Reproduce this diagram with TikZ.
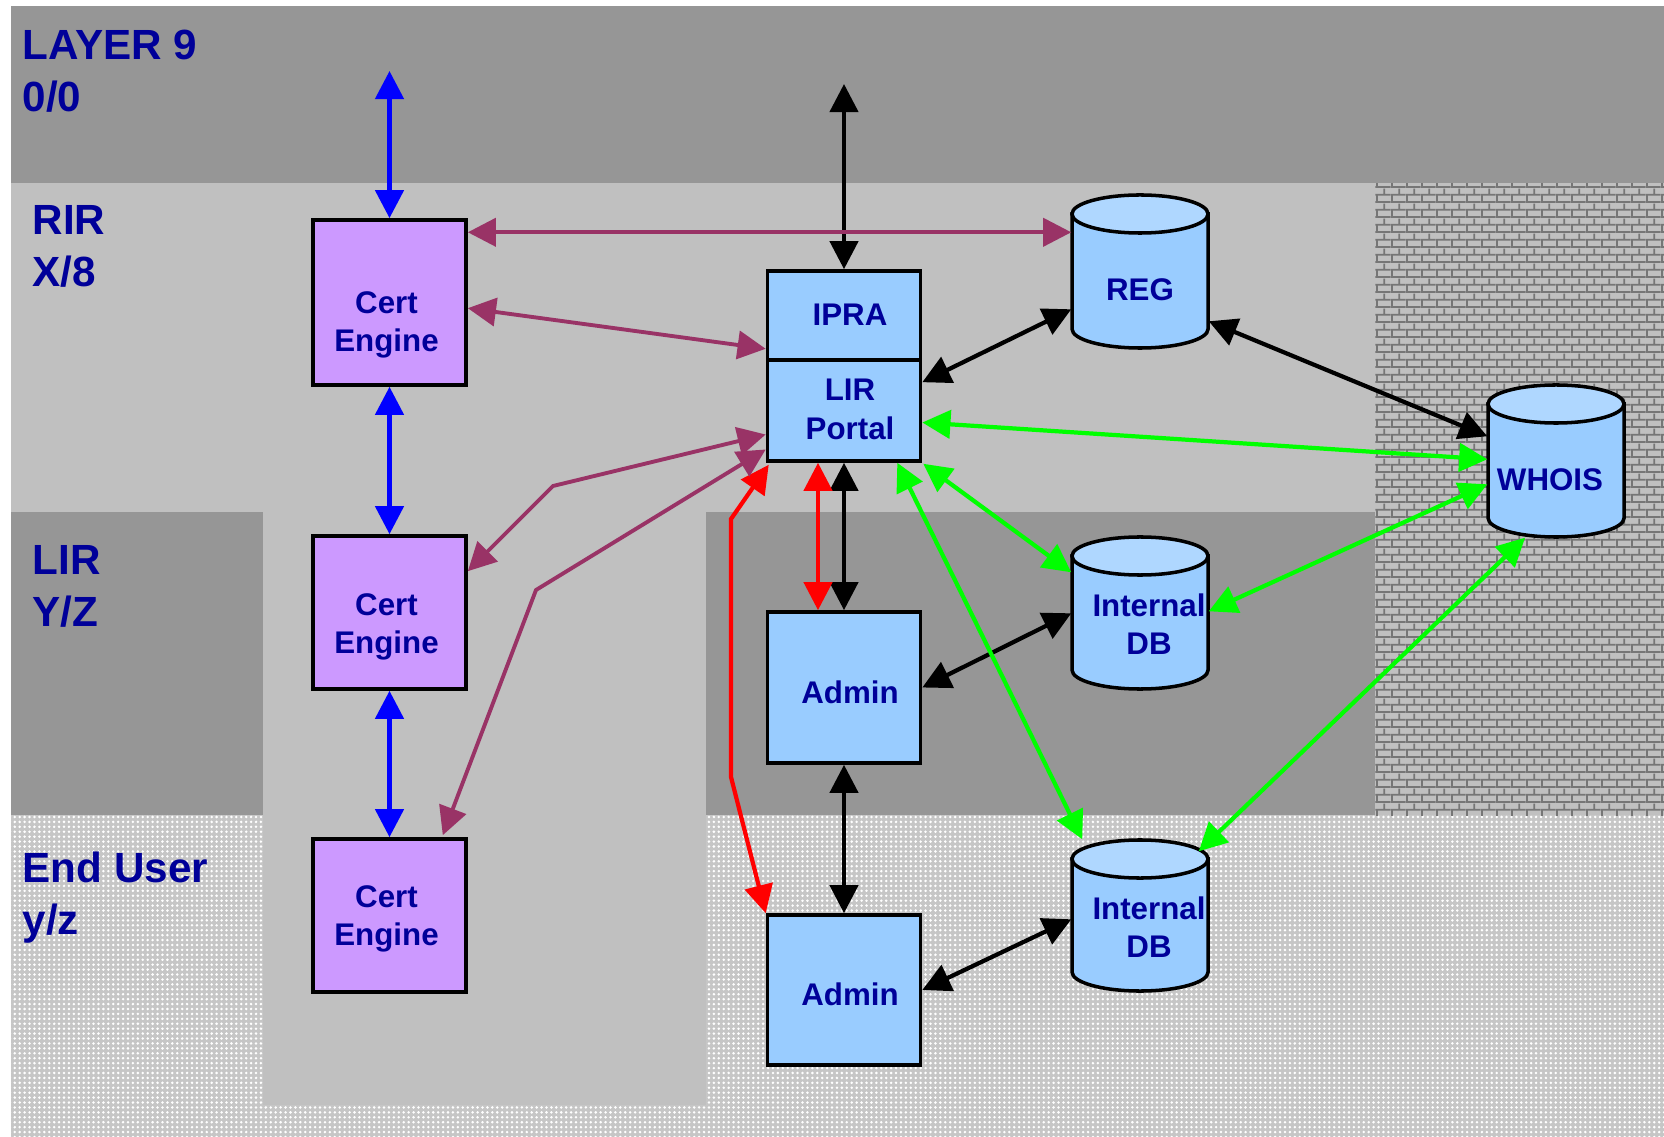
\documentclass[tikz,border=0pt]{standalone}
\usepackage{fontspec}
\setmainfont{Liberation Sans}
\usetikzlibrary{arrows.meta,calc,patterns.meta}

\definecolor{bandgray}{RGB}{150,150,150}
\definecolor{rirgray}{RGB}{192,192,192}
\definecolor{dotgray}{RGB}{198,198,198}
\definecolor{brickface}{RGB}{192,192,192}
\definecolor{mortar}{RGB}{118,118,118}
\definecolor{certfill}{RGB}{204,153,255}
\definecolor{boxfill}{RGB}{153,204,255}
\definecolor{drumtop}{RGB}{175,215,255}
\definecolor{labelblue}{RGB}{0,0,153}
\definecolor{plum}{RGB}{153,51,102}

% wall texture for the WHOIS side
\tikzdeclarepattern{
  name=brickwall,
  type=uncolored,
  bounding box={(0pt,0pt) and (4.35pt,4.32pt)},
  tile size={(4.35pt,4.32pt)},
  code={
    \draw[line width=0.5pt] (0pt,0.3pt) -- (4.35pt,0.3pt)
      (0pt,2.46pt) -- (4.35pt,2.46pt)
      (0.3pt,0.3pt) -- (0.3pt,2.46pt)
      (2.475pt,2.46pt) -- (2.475pt,4.32pt)
      (2.475pt,0pt) -- (2.475pt,0.3pt);
  }
}

% box text, moved by dx and dy without changing the box
\newcommand{\boxtext}[3]{\kern#1\raisebox{#2}[\height][\depth]{%
  \begin{tabular}{@{}c@{}}#3\end{tabular}}\kern-#1}

% database drum: name, left, top, bottom, text
\newcommand{\dbdrum}[5]{%
  \filldraw[line width=1pt, fill=boxfill] (#2,#3+19) -- (#2,#4-19)
    arc[start angle=180, end angle=360, x radius=0.68cm, y radius=0.19cm]
    -- (#2+136,#3+19) -- cycle;
  \filldraw[line width=1pt, fill=drumtop] (#2+68,#3+19) ellipse [x radius=0.68cm, y radius=0.19cm];
  \node[drumtext, minimum height={(#4-#3-38)*0.01cm}] (#1) at (#2+68,{(#3+38+#4)/2}) {#5};
}

\begin{document}
\begin{tikzpicture}[%
      x=0.01cm, y=-0.01cm,
      >={Triangle[length=8pt,width=8pt]},
      boxfont/.style={font=\fontsize{8.9}{10.9}\selectfont\bfseries},
      tier/.style={anchor=north west, inner sep=0pt, align=left, text=labelblue,
        font=\fontsize{12}{14.8}\selectfont\bfseries},
      certbox/.style={draw, line width=1pt, fill=certfill, minimum width=1.53cm,
        inner sep=0pt, text=labelblue, boxfont},
      toolbox/.style={certbox, fill=boxfill},
      drumtext/.style={minimum width=1.36cm, inner sep=0pt, text=labelblue, boxfont},
      link/.style={<->, line width=1.2pt},
      ]
      \useasboundingbox (0,0) rectangle (1664,1137);

      % tiers
      \fill [dotgray] (11,183) rectangle (1664,1137);
      \fill [pattern={Dots[radius=0.4pt,distance=1.4pt]}, pattern color=white] (11,183) rectangle (1664,1137);
      \fill [rirgray] (11,183) rectangle (1375,512);
      \fill [rirgray] (263,512) rectangle (706,1105);
      \fill [bandgray] (11,512) rectangle (263,815);
      \fill [bandgray] (706,512) rectangle (1375,815);
      \fill [brickface] (1375,183) rectangle (1664,815);
      \fill [pattern=brickwall, pattern color=mortar] (1375,183) rectangle (1664,815);
      \fill [bandgray] (11,6) rectangle (1664,183);

      \node [tier] (layer) at (22,29) {LAYER 9\\0/0};
      \node [tier] (rir) at (32,205) {RIR\\X/8};
      \node [tier] (lir) at (32,545) {LIR\\Y/Z};
      \node [tier] (enduser) at (22,851) {End User\\y/z};

      % boxes
      \node [certbox, minimum height=1.65cm] (cert1) at (389.5,302.5) {\boxtext{-0.03cm}{-0.22cm}{Cert\\Engine}};
      \node [certbox, minimum height=1.53cm] (cert2) at (389.5,612.5) {\boxtext{-0.03cm}{-0.14cm}{Cert\\Engine}};
      \node [certbox, minimum height=1.53cm] (cert3) at (389.5,915.5) {\boxtext{-0.03cm}{-0.03cm}{Cert\\Engine}};
      \node [toolbox, minimum height=0.89cm] (ipra) at (844,315.5) {\boxtext{0.06cm}{-0.02cm}{IPRA}};
      \node [toolbox, minimum height=1.01cm] (portal) at (844,410.5) {\boxtext{0.06cm}{-0.02cm}{LIR\\Portal}};
      \node [toolbox, minimum height=1.51cm] (admin1) at (844,687.5) {\boxtext{0.06cm}{-0.08cm}{Admin}};
      \node [toolbox, minimum height=1.50cm] (admin2) at (844,990) {\boxtext{0.06cm}{-0.08cm}{Admin}};

      \dbdrum{reg}{1072}{195}{348}{\boxtext{0cm}{-0.02cm}{REG}}
      \dbdrum{db1}{1072}{537}{689}{\boxtext{0.09cm}{0.04cm}{Internal\\DB}}
      \dbdrum{db2}{1072}{840}{991}{\boxtext{0.09cm}{0.04cm}{Internal\\DB}}
      \dbdrum{whois}{1488}{385}{537}{\boxtext{-0.06cm}{-0.03cm}{WHOIS}}

      \coordinate (skyA) at (389.5,71);
      \coordinate (skyB) at (844,84);

      % blue
      \draw [link, blue, line width=1.3pt] (skyA) -- (cert1.north);
      \draw [link, blue, line width=1.3pt] (cert1.south) -- (cert2.north);
      \draw [link, blue, line width=1.3pt] (cert2.south) -- (cert3.north);

      % black
      \draw [link] (skyB) -- (ipra.north);
      \draw [link] ($(portal.north east)+(0,24)$) -- ($(reg.north west)+(0,77)$);
      \draw [link] ($(reg.north east)+(0,89)$) -- ($(whois.north west)+(0,14)$);
      \draw [link] (portal.south) -- (admin1.north);
      \draw [link] (admin1.south) -- (admin2.north);
      \draw [link] (admin1.east) -- ($(db1.north west)+(0,39)$);
      \draw [link] (admin2.east) -- ($(db2.north west)+(0,42)$);

      % red
      \draw [link, red] ($(portal.south)+(-26,0)$) -- ($(admin1.north)+(-26,0)$);
      \draw [link, red] ($(portal.south west)+(3,2)$) -- (731,519) -- (731,777) -- (admin2.north west);

      % plum
      \draw [link, plum, line width=1.1pt] (cert1.east |- reg.north west) -- (reg.north west);
      \draw [link, plum, line width=1.1pt] ($(cert1.north east)+(0,90)$) -- ($(ipra.south west)+(0,-13)$);
      \draw [link, plum, line width=1.1pt] ($(portal.west)+(0,24)$) -- (553,486) -- ($(cert2.north east)+(0,37)$);
      \draw [link, plum, line width=1.1pt] ($(portal.west)+(0,39)$) -- (536,590) -- ($(cert3.north east)+(-25,-2)$);

      % green
      \draw [link, green] ($(portal.east)+(0,12)$) -- ($(whois.north west)+(0,37)$);
      \draw [link, green] ($(portal.south east)+(1,1)$) -- ($(db1.north west)+(0,-2)$);
      \draw [link, green] ($(portal.south east)+(-25,0)$) -- ($(db2.north west)+(11,-38)$);
      \draw [link, green] ($(db1.north east)+(0,37)$) -- ($(whois.north west)+(0,62)$);
      \draw [link, green] ($(db2.north east)+(-10,-26)$) -- ($(whois.south)+(-31,0)$);
\end{tikzpicture}
\end{document}
